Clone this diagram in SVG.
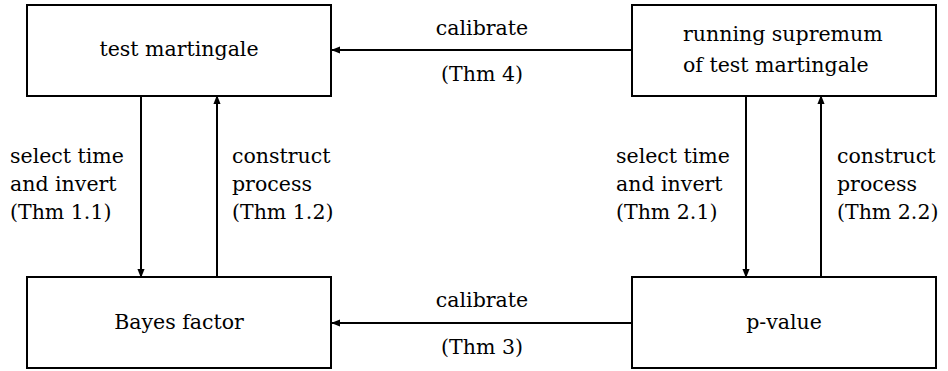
<svg xmlns="http://www.w3.org/2000/svg" width="948" height="371" viewBox="0 0 948 371">
<style>
.box{fill:#fff;stroke:#000;stroke-width:2}
.c{text-anchor:middle}
.e{stroke:#000;stroke-width:2;fill:none;marker-end:url(#ah)}
</style>
<defs>
<marker id="ah" viewBox="0 0 10 10" refX="9" refY="5" markerWidth="4.5" markerHeight="4.5" orient="auto" markerUnits="strokeWidth">
<path d="M0,1 L10,5 L0,9 Z" fill="#000"/>
</marker>
</defs>
<g id="connectors">
<path class="e" d="M632,50 L332,50"/>
<path class="e" d="M632,323 L332,323"/>
<path class="e" d="M141,96 L141,277"/>
<path class="e" d="M217,277 L217,96"/>
<path class="e" d="M746,96 L746,277"/>
<path class="e" d="M821,277 L821,96"/>
<g font-family="DejaVu Serif" font-size="20.5" fill="#000">
<text class="c" x="482" y="35">calibrate</text>
<text class="c" x="482" y="81">(Thm 4)</text>
<text class="c" x="482" y="307">calibrate</text>
<text class="c" x="482" y="354">(Thm 3)</text>
<text x="10" y="163">select time</text>
<text x="10" y="191">and invert</text>
<text x="10" y="219">(Thm 1.1)</text>
<text x="232" y="163">construct</text>
<text x="232" y="191">process</text>
<text x="232" y="219">(Thm 1.2)</text>
<text x="616" y="163">select time</text>
<text x="616" y="191">and invert</text>
<text x="616" y="219">(Thm 2.1)</text>
<text x="837" y="163">construct</text>
<text x="837" y="191">process</text>
<text x="837" y="219">(Thm 2.2)</text>
</g>
</g>
<g id="test-martingale">
<rect class="box" x="27" y="5" width="304" height="91"/>
<text class="c" x="179" y="56" font-family="DejaVu Serif" font-size="20.5">test martingale</text>
</g>
<g id="running-supremum">
<rect class="box" x="632" y="5" width="304" height="91"/>
<text x="683" y="41" font-family="DejaVu Serif" font-size="20.5">running supremum</text>
<text x="683" y="72" font-family="DejaVu Serif" font-size="20.5">of test martingale</text>
</g>
<g id="bayes-factor">
<rect class="box" x="27" y="277" width="304" height="91"/>
<text class="c" x="179" y="329" font-family="DejaVu Serif" font-size="20.5">Bayes factor</text>
</g>
<g id="p-value">
<rect class="box" x="632" y="277" width="304" height="91"/>
<text class="c" x="784" y="329" font-family="DejaVu Serif" font-size="20.5">p-value</text>
</g>
</svg>
